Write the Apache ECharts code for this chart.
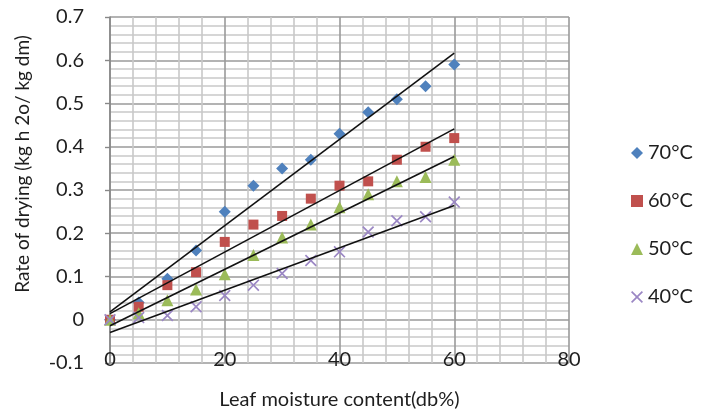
<!DOCTYPE html>
<html>
<head>
<meta charset="utf-8">
<script src="https://cdn.jsdelivr.net/npm/echarts@6/dist/echarts.min.js"></script>
<style>
  html, body { margin: 0; padding: 0; background: #fff; }
  #chart { width: 709px; height: 415px; }
</style>
</head>
<body>
<div id="chart"></div>
<script>
// Leaf moisture content (db%) sampled every 5 units
const moisture = [0, 5, 10, 15, 20, 25, 30, 35, 40, 45, 50, 55, 60];

// Drying rate (kg h2o / kg dm) at each air temperature
const rate70 = [0, 0.04, 0.095, 0.16, 0.25, 0.31, 0.35, 0.37, 0.43, 0.48, 0.51, 0.54, 0.59];
const rate60 = [0, 0.03, 0.08, 0.11, 0.18, 0.22, 0.24, 0.28, 0.31, 0.32, 0.37, 0.40, 0.42];
const rate50 = [0, 0.015, 0.045, 0.07, 0.105, 0.15, 0.19, 0.22, 0.26, 0.29, 0.32, 0.33, 0.37];
const rate40 = [0, 0.005, 0.01, 0.03, 0.056, 0.08, 0.107, 0.137, 0.157, 0.203, 0.229, 0.238, 0.272];

const seriesNames = ['70°C', '60°C', '50°C', '40°C'];
const seriesRates = [rate70, rate60, rate50, rate40];

const xAxisRange = { min: 0, max: 80, interval: 20 };
const yAxisRange = { min: -0.1, max: 0.7, interval: 0.1 };

const colors = ['#4F81BD', '#C0504D', '#9BBB59', '#9B87C4'];
const symbols = [
  'diamond',
  'rect',
  'triangle',
  'path://M0,1 L1,0 L5,4 L9,0 L10,1 L6,5 L10,9 L9,10 L5,6 L1,10 L0,9 L4,5 Z'
];
const symbolSizes = [12, 10, 12, 12];

// Least-squares straight line through a set of points
function linearFit(xs, ys) {
  const n = xs.length;
  const mx = xs.reduce((a, b) => a + b, 0) / n;
  const my = ys.reduce((a, b) => a + b, 0) / n;
  let sxy = 0, sxx = 0;
  for (let i = 0; i < n; i++) {
    sxy += (xs[i] - mx) * (ys[i] - my);
    sxx += (xs[i] - mx) * (xs[i] - mx);
  }
  const slope = sxy / sxx;
  return { slope, intercept: my - slope * mx };
}

const font = 'Lato, "Open Sans", sans-serif';
const textColor = '#1e1e1e';

const series = [];
seriesRates.forEach((ys, i) => {
  series.push({
    name: seriesNames[i],
    type: 'scatter',
    symbol: symbols[i],
    symbolSize: symbolSizes[i],
    itemStyle: { color: colors[i], opacity: 1 },
    data: moisture.map((x, k) => [x, ys[k]]),
    z: 2
  });
});
// Linear trendline for each temperature, over the measured range
seriesRates.forEach((ys) => {
  const fit = linearFit(moisture, ys);
  const x0 = moisture[0], x1 = moisture[moisture.length - 1];
  series.push({
    type: 'line',
    showSymbol: false,
    silent: true,
    lineStyle: { color: '#111', width: 1.6 },
    data: [[x0, fit.intercept + fit.slope * x0], [x1, fit.intercept + fit.slope * x1]],
    z: 3
  });
});

const majorGrid = { show: true, lineStyle: { color: '#9a9a9a', width: 1.6 } };
const minorGrid = { show: true, lineStyle: { color: '#c8c8c8', width: 1.6 } };

const chart = echarts.init(document.getElementById('chart'), null, { renderer: 'canvas' });
chart.setOption({
  animation: false,
  backgroundColor: '#fff',
  grid: { left: 110, right: 140, top: 17, bottom: 50 },
  legend: {
    orient: 'vertical',
    left: 626,
    top: 136,
    itemWidth: 12,
    itemHeight: 12,
    itemGap: 24,
    data: seriesNames,
    textStyle: { fontFamily: font, fontSize: 20, color: textColor, lineHeight: 24 }
  },
  xAxis: {
    type: 'value',
    min: xAxisRange.min,
    max: xAxisRange.max,
    interval: xAxisRange.interval,
    name: 'Leaf moisture content(db%)',
    nameLocation: 'middle',
    nameGap: 27,
    nameTextStyle: { fontFamily: font, fontSize: 20, color: textColor },
    axisLine: { show: false },
    axisTick: { show: false },
    axisLabel: { fontFamily: font, fontSize: 20, color: textColor, margin: -3, verticalAlign: 'middle' },
    splitLine: majorGrid,
    minorTick: { show: false, splitNumber: 5 },
    minorSplitLine: minorGrid
  },
  yAxis: {
    type: 'value',
    min: yAxisRange.min,
    max: yAxisRange.max,
    interval: yAxisRange.interval,
    name: 'Rate of drying (kg h 2o/ kg dm)',
    nameLocation: 'middle',
    nameGap: 78,
    nameTextStyle: { fontFamily: font, fontSize: 19, color: textColor, padding: [0, 0, 0, 52] },
    axisLine: { show: true, onZero: false, lineStyle: { color: '#888', width: 1.6 } },
    axisTick: { show: true, length: 5, lineStyle: { color: '#888', width: 1.4 } },
    axisLabel: {
      fontFamily: font, fontSize: 20, color: textColor, margin: 26,
      formatter: (v) => String(parseFloat(v.toFixed(2)))
    },
    splitLine: majorGrid,
    minorTick: { show: false, splitNumber: 5 },
    minorSplitLine: minorGrid
  },
  series: series
});
</script>
</body>
</html>
